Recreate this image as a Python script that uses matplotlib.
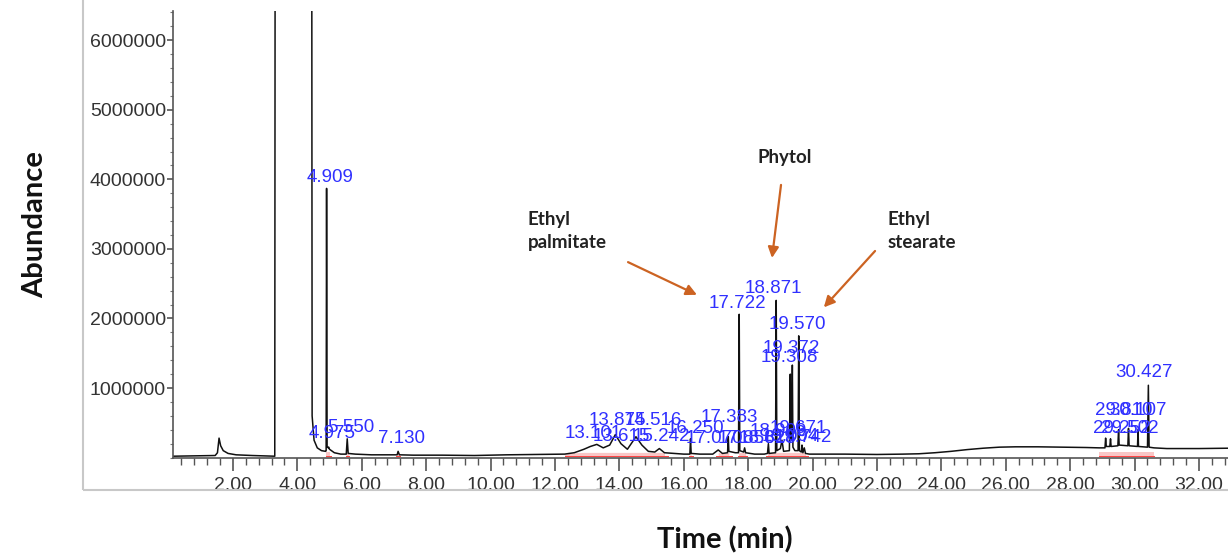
"""GC-MS chromatogram: abundance vs retention time with peak labels and annotated compounds."""
import numpy as np
import matplotlib
matplotlib.use("Agg")
import matplotlib.pyplot as plt
from matplotlib.patches import Rectangle
from matplotlib.ticker import MultipleLocator, FixedLocator

# --- trace vertices (time in min, abundance) ---
trace_t = [0.14, 1.45, 1.52, 1.57, 1.62, 1.70, 1.85, 2.10, 2.60, 3.00, 3.30,
           3.33, 4.43,
           4.46, 4.52, 4.62, 4.75, 4.88, 4.895, 4.909, 4.925, 4.96, 4.975, 5.00,
           5.15, 5.35, 5.52, 5.55, 5.58, 5.80, 6.30, 6.90, 7.10, 7.13, 7.17,
           7.60, 8.50, 9.50, 10.50, 11.50, 12.30,
           12.60, 12.90, 13.10, 13.30, 13.50, 13.70, 13.875, 14.05, 14.25, 14.516,
           14.70, 14.90, 15.10, 15.242, 15.40, 15.70, 16.00, 16.19, 16.21, 16.23,
           16.50, 16.90, 17.07, 17.20, 17.36, 17.383, 17.40, 17.60, 17.70, 17.722,
           17.74, 17.86, 17.89, 17.92, 18.20, 18.50, 18.60, 18.628, 18.65, 18.85,
           18.871, 18.89, 19.00, 19.05, 19.10, 19.28, 19.308, 19.32, 19.35, 19.372,
           19.39, 19.45, 19.55, 19.570, 19.59, 19.65, 19.671, 19.70, 19.742, 19.78,
           19.90, 20.30, 21.00, 22.00, 22.80, 23.30, 23.80, 24.30, 24.80, 25.30,
           25.80, 26.30, 27.00, 27.80, 28.50, 28.90,
           29.08, 29.10, 29.12, 29.23, 29.252, 29.27, 29.48, 29.502, 29.52, 29.79,
           29.810, 29.83, 30.09, 30.107, 30.12, 30.40, 30.427, 30.45, 30.60, 31.00,
           32.00, 32.90]
trace_a = [20000, 30000, 70000, 280000, 170000, 100000, 60000, 40000, 30000, 25000, 20000,
           20000000, 20000000,
           600000, 250000, 140000, 100000, 90000, 100000, 3870000, 160000, 140000, 150000, 120000,
           70000, 50000, 50000, 270000, 60000, 50000, 40000, 40000, 40000, 90000, 40000,
           35000, 35000, 30000, 40000, 45000, 50000,
           70000, 120000, 160000, 190000, 140000, 180000, 330000, 200000, 120000, 300000,
           180000, 90000, 80000, 130000, 70000, 60000, 50000, 50000, 270000, 60000,
           50000, 50000, 110000, 60000, 70000, 300000, 90000, 70000, 70000, 2060000,
           100000, 80000, 140000, 70000, 50000, 50000, 60000, 200000, 60000, 70000,
           2260000, 100000, 130000, 250000, 90000, 100000, 1200000, 300000, 250000, 1330000,
           150000, 100000, 100000, 1750000, 100000, 80000, 180000, 70000, 140000, 60000,
           50000, 50000, 50000, 45000, 50000, 55000, 70000, 90000, 115000, 135000,
           150000, 155000, 155000, 150000, 145000, 140000,
           140000, 280000, 160000, 160000, 270000, 160000, 170000, 400000, 180000, 170000,
           420000, 170000, 160000, 400000, 160000, 150000, 1040000, 150000, 140000, 130000,
           130000, 135000]

# integrated (red) regions
integ_start = [4.88, 5.50, 7.08, 12.30, 16.15, 17.00, 17.68, 18.55, 28.90]
integ_end = [5.05, 5.62, 7.20, 15.50, 16.30, 17.50, 17.95, 19.85, 30.60]

# --- peak labels: text, centre time, centre abundance ---
lab_text = ["4.909", "4.975", "5.550", "7.130",
            "13.101", "13.875", "14.516", "13.615", "15.242", "16.250", "17.070",
            "17.383", "17.858", "18.628", "18.909", "19.094", "19.671", "19.742",
            "17.722", "18.871", "19.570", "19.372", "19.308",
            "29.252", "29.502", "29.810", "30.107", "30.427"]
lab_t = [5.01, 5.07, 5.66, 7.22,
         13.20, 13.95, 15.05, 14.05, 15.30, 16.35, 16.95,
         17.40, 17.95, 18.60, 18.95, 19.30, 19.55, 19.70,
         17.68, 18.77, 19.52, 19.33, 19.27,
         29.60, 29.85, 29.65, 30.10, 30.28]
lab_a = [4020000, 350000, 430000, 270000,
         350000, 540000, 540000, 300000, 300000, 420000, 270000,
         570000, 270000, 270000, 380000, 300000, 420000, 290000,
         2220000, 2430000, 1910000, 1570000, 1440000,
         420000, 420000, 670000, 670000, 1220000]

# --- compound annotations ---
ann_text = ["Ethyl\npalmitate", "Phytol", "Ethyl\nstearate"]
ann_xy = [(11.16, 3260000), (19.14, 4320000), (22.34, 3260000)]
ann_ha = ["left", "center", "left"]
arr_tail = [(14.27, 2810000), (19.02, 3920000), (21.94, 2970000)]
arr_head = [(16.41, 2340000), (18.74, 2870000), (20.35, 2160000)]

W, H = 1228, 558
fig = plt.figure(figsize=(W / 100, H / 100), dpi=100)
fig.patches.append(Rectangle((83 / W, 1 - 490 / H), 1.2, 1.2, transform=fig.transFigure,
                             fill=False, edgecolor="#c8c8c8", lw=1.5))
ax = fig.add_axes([173 / W, 1 - 457.6 / H, 1 - 173 / W, (457.6 - 11) / H])

t = np.array(trace_t)
a = np.array(trace_a, dtype=float)
floor = 30000
for s, e in zip(integ_start, integ_end):
    m = (t >= s) & (t <= e)
    ax.fill_between(t[m], floor, np.minimum(a[m], floor + 45000), color="#f5a3a3",
                    alpha=0.6, lw=0, zorder=1)
    ax.plot([s, e], [floor, floor], color="#ff4040", lw=0.7, zorder=1)
ax.plot(t, a, color="#111111", lw=1.1, zorder=2)

for txt, x, y in zip(lab_text, lab_t, lab_a):
    ax.text(x, y, txt, color="#3030ff", fontsize=13.5, ha="center", va="center",
            family="Liberation Sans", zorder=3)

for txt, xy, ha in zip(ann_text, ann_xy, ann_ha):
    ax.text(xy[0], xy[1], txt, ha=ha, va="center", fontsize=13.5, fontweight="bold",
            family="Lato", color="#222222", linespacing=1.45)
for tail, head in zip(arr_tail, arr_head):
    ax.annotate("", xy=head, xytext=tail,
                arrowprops=dict(arrowstyle="-|>", color="#cc6322", lw=1.6, mutation_scale=16,
                                shrinkA=0, shrinkB=0))

ax.set_xlim(0.14, 32.9)
ax.set_ylim(0, 6420000)
ax.spines["top"].set_visible(False)
ax.spines["right"].set_visible(False)
for sp in ("left", "bottom"):
    ax.spines[sp].set_color("#555555")
    ax.spines[sp].set_linewidth(1.2)

ax.xaxis.set_major_locator(FixedLocator(np.arange(2, 33, 2)))
ax.xaxis.set_minor_locator(MultipleLocator(0.4))
ax.set_xticklabels(["%.2f" % v for v in np.arange(2, 33, 2)])
ax.yaxis.set_major_locator(FixedLocator(np.arange(1000000, 6000001, 1000000)))
ax.yaxis.set_minor_locator(MultipleLocator(200000))
ax.set_yticklabels(["%d" % v for v in np.arange(1000000, 6000001, 1000000)])
ax.tick_params(axis="x", which="major", direction="out", length=9, width=1.2,
               color="#555555", pad=5, labelsize=14, labelcolor="#333333")
ax.tick_params(axis="x", which="minor", direction="out", length=5, width=1.0, color="#555555")
ax.tick_params(axis="y", which="major", direction="out", length=4, width=1.2,
               color="#555555", pad=1, labelsize=14, labelcolor="#333333")
ax.tick_params(axis="y", which="minor", direction="out", length=2, width=0.8, color="#777777")
for lb in ax.get_xticklabels() + ax.get_yticklabels():
    lb.set_family("Liberation Sans")

fig.text(35 / W, 1 - 225 / H, "Abundance", rotation=90, ha="center", va="center",
         fontsize=21, fontweight="bold", family="Lato", color="#111111")
fig.text(725 / W, 1 - 540 / H, "Time (min)", ha="center", va="center",
         fontsize=21, fontweight="bold", family="Lato", color="#111111")

fig.savefig("out.png", dpi=100)
